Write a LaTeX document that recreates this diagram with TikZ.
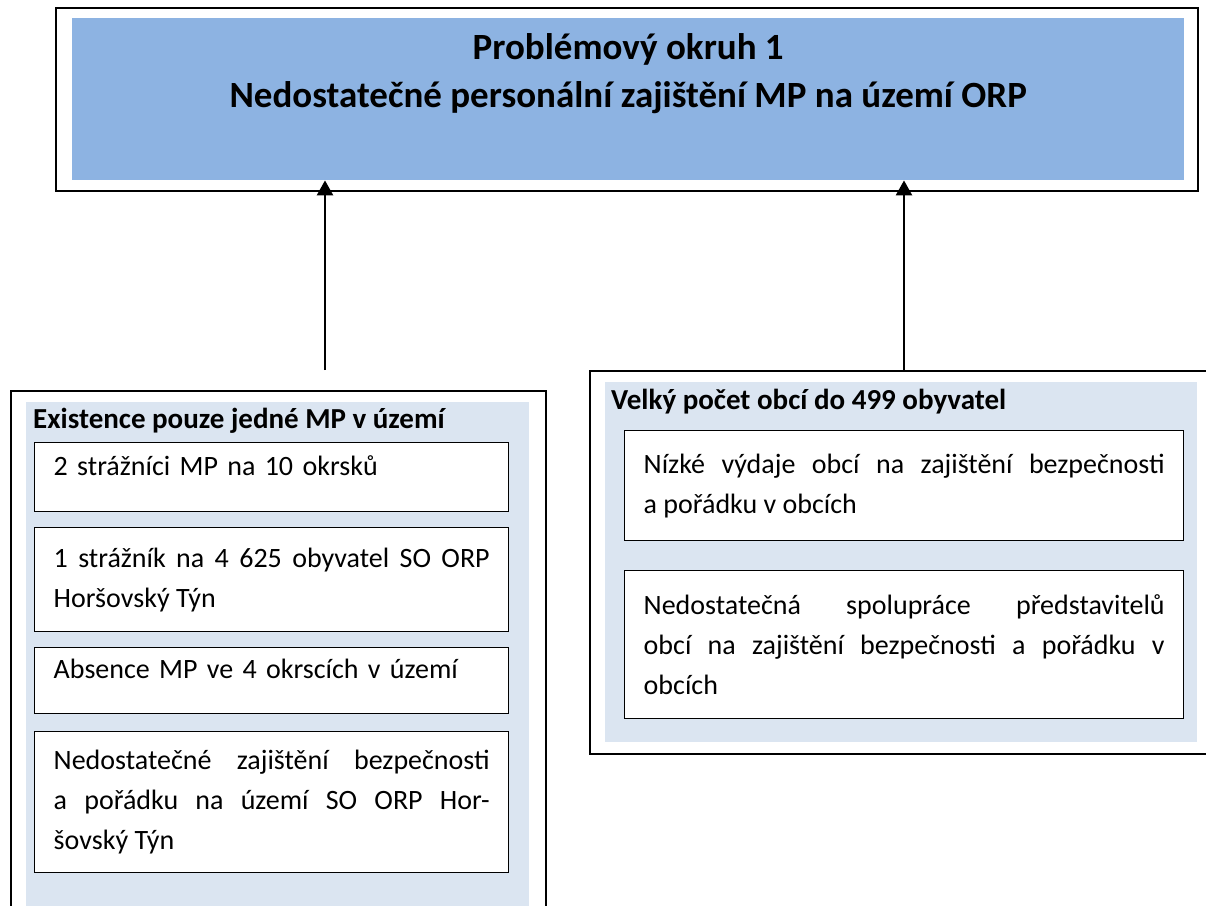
\documentclass[tikz,border=0pt]{standalone}
\usepackage{fontspec}
\setmainfont{Carlito}
\usepackage{xcolor}
\usepackage{tikz}
\usetikzlibrary{positioning,arrows.meta}
\definecolor{headblue}{RGB}{141,179,226}
\definecolor{paleblue}{RGB}{219,229,241}

\begin{document}
\begin{tikzpicture}[x=1pt,y=-1pt,
    frame/.style={draw,line width=1.6pt,anchor=north west,inner sep=0pt},
    panel/.style={fill=paleblue,anchor=north west,inner sep=0pt},
    item/.style={draw,line width=1.4pt,fill=white,anchor=north west,inner sep=0pt,align=justify,font=\fontsize{28}{40}\selectfont},
    oneline/.style={align=left,text depth=24pt},
    heading/.style={anchor=west,inner sep=0pt,font=\fontsize{29}{32}\selectfont\bfseries},
    arrow/.style={line width=2.5pt,-{Triangle[length=15pt,width=16pt]}}
  ]
    \useasboundingbox (0,0) rectangle (1206,905);
    \clip (0,0) rectangle (1206,905);

    % problem box
    \node[frame,minimum width=1142pt,minimum height=183pt] (outer) at (55,7) {};
    \node[panel,fill=headblue,minimum width=1112pt,minimum height=162pt] (title) at (72,18) {};
    \node[below=12pt of title.north,align=center,font=\fontsize{37}{48}\selectfont\bfseries] (titletext)
      {Problémový okruh 1\\Nedostatečné personální zajištění MP na území ORP};

    % left cause
    \node[frame,minimum width=535pt,minimum height=540pt] (leftframe) at (10,390) {};
    \node[panel,minimum width=503pt,minimum height=510pt] (leftpanel) at (26,402) {};
    \node[heading] (lefthead) at (33,421) {Existence pouze jedné MP v území};
    \node[item,oneline,minimum width=474pt,minimum height=69pt,text width=436pt] (l1) at (34,442)
      {2 strážníci MP na 10 okrsků};
    \node[item,minimum width=474pt,minimum height=104pt,text width=436pt] (l2) at (34,527)
      {1 strážník na 4 625 obyvatel SO ORP\linebreak Horšovský Týn};
    \node[item,oneline,minimum width=474pt,minimum height=66pt,text width=436pt] (l3) at (34,647)
      {Absence MP ve 4 okrscích v území};
    \node[item,minimum width=474pt,minimum height=141pt,text width=436pt] (l4) at (34,731)
      {Nedostatečné zajištění bezpečnosti\linebreak a pořádku na území SO ORP Hor-\linebreak šovský Týn};

    % right cause
    \node[frame,minimum width=640pt,minimum height=383pt] (rightframe) at (589,370) {};
    \node[panel,minimum width=592pt,minimum height=360pt] (rightpanel) at (605,382) {};
    \node[heading] (righthead) at (611,402) {Velký počet obcí do 499 obyvatel};
    \node[item,minimum width=559pt,minimum height=110pt,text width=521pt] (r1) at (624,430)
      {Nízké výdaje obcí na zajištění bezpečnosti\linebreak a pořádku v obcích};
    \node[item,minimum width=559pt,minimum height=148pt,text width=521pt] (r2) at (624,570)
      {Nedostatečná spolupráce představitelů\linebreak obcí na zajištění bezpečnosti a pořádku v\linebreak obcích};

    \coordinate (lfoot) at (325,370);
    \coordinate (rfoot) at (rightframe.north west -| 904,0);
    \draw[arrow] (lfoot) -- (lfoot |- title.south);
    \draw[arrow] (rfoot) -- (rfoot |- title.south);
  \end{tikzpicture}
\end{document}
